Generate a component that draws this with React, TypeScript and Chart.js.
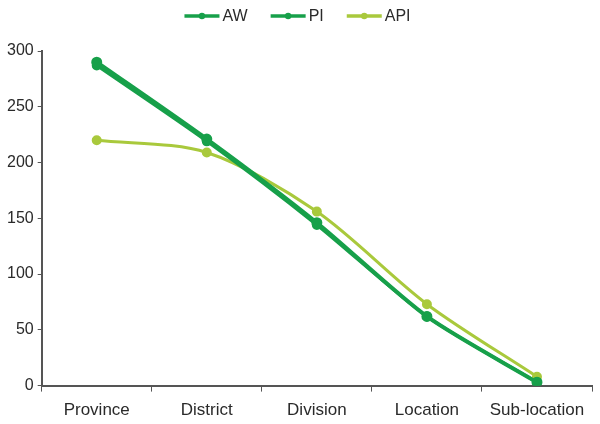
import React, { useEffect, useRef } from "react";
import { Chart, registerables } from "chart.js";

Chart.register(...registerables);

const categories = ["Province", "District", "Division", "Location", "Sub-location"];
const awValues = [290, 221, 146, 62, 3];
const piValues = [287, 219, 144, 62, 3];
const apiValues = [220, 209, 156, 73, 8];
const seriesNames = ["AW", "PI", "API"];

const DARK = "#17a04a";
const LIGHT = "#a9c93c";
const FONT = "Liberation Sans, Arial, sans-serif";
const TEXT = "#2a2a2a";

const customLegend = {
  id: "customLegend",
  afterDraw(chart: any) {
    const ctx = chart.ctx;
    const ds = chart.data.datasets;
    ctx.save();
    ctx.font = `16px ${FONT}`;
    const lineW = 35;
    const gapText = 3;
    const gapItem = 23;
    const widths = ds.map((d: any) => lineW + gapText + ctx.measureText(d.label).width);
    const total = widths.reduce((a: number, b: number) => a + b, 0) + gapItem * (ds.length - 1);
    let x = 297.5 - total / 2;
    const y = 16;
    ds.forEach((d: any, i: number) => {
      ctx.strokeStyle = d.borderColor;
      ctx.lineWidth = 3.5;
      ctx.beginPath();
      ctx.moveTo(x, y);
      ctx.lineTo(x + lineW, y);
      ctx.stroke();
      ctx.fillStyle = d.borderColor;
      ctx.beginPath();
      ctx.arc(x + lineW / 2, y, 3.2, 0, Math.PI * 2);
      ctx.fill();
      ctx.fillStyle = TEXT;
      ctx.textBaseline = "middle";
      ctx.textAlign = "left";
      ctx.fillText(d.label, x + lineW + gapText, y + 1);
      x += widths[i] + gapItem;
    });
    ctx.restore();
  },
};

export default function App() {
  const ref = useRef<HTMLCanvasElement>(null);
  useEffect(() => {
    const chart = new Chart(ref.current!, {
      type: "line",
      plugins: [customLegend],
      data: {
        labels: categories,
        datasets: [
          { label: seriesNames[0], data: awValues, borderColor: DARK, backgroundColor: DARK, borderWidth: 4, pointRadius: 3.5, tension: 0.25 },
          { label: seriesNames[1], data: piValues, borderColor: DARK, backgroundColor: DARK, borderWidth: 3, pointRadius: 3.5, tension: 0.25 },
          { label: seriesNames[2], data: apiValues, borderColor: LIGHT, backgroundColor: LIGHT, borderWidth: 3, pointRadius: 3.5, tension: 0.3 },
        ],
      },
      options: {
        animation: false,
        responsive: false,
        maintainAspectRatio: false,
        layout: { padding: { left: 3, right: 3, top: 51, bottom: 5 } },
        elements: { point: { pointStyle: "circle" } },
        plugins: {
          tooltip: { enabled: false },
          legend: { display: false },
        },
        scales: {
          x: {
            offset: true,
            afterFit: (scale: any) => {
              scale.height -= 11;
            },
            grid: { display: true, drawOnChartArea: false, drawTicks: true, tickLength: 6, color: "#555", offset: true },
            border: { display: true, color: "#555", width: 2 },
            ticks: { color: TEXT, font: { family: FONT, size: 17 }, padding: 9, maxRotation: 0 },
          },
          y: {
            min: 0,
            max: 300,
            grid: { display: true, drawOnChartArea: false, drawTicks: true, tickLength: 4, color: "#555" },
            border: { display: true, color: "#555", width: 2 },
            ticks: { stepSize: 50, color: TEXT, font: { family: FONT, size: 16 }, padding: 4 },
          },
        },
      },
    });
    return () => chart.destroy();
  }, []);
  return (
    <div style={{ position: "fixed", left: 0, top: 0, width: 600, height: 424, background: "#fff" }}>
      <canvas ref={ref} width={600} height={424} />
    </div>
  );
}
